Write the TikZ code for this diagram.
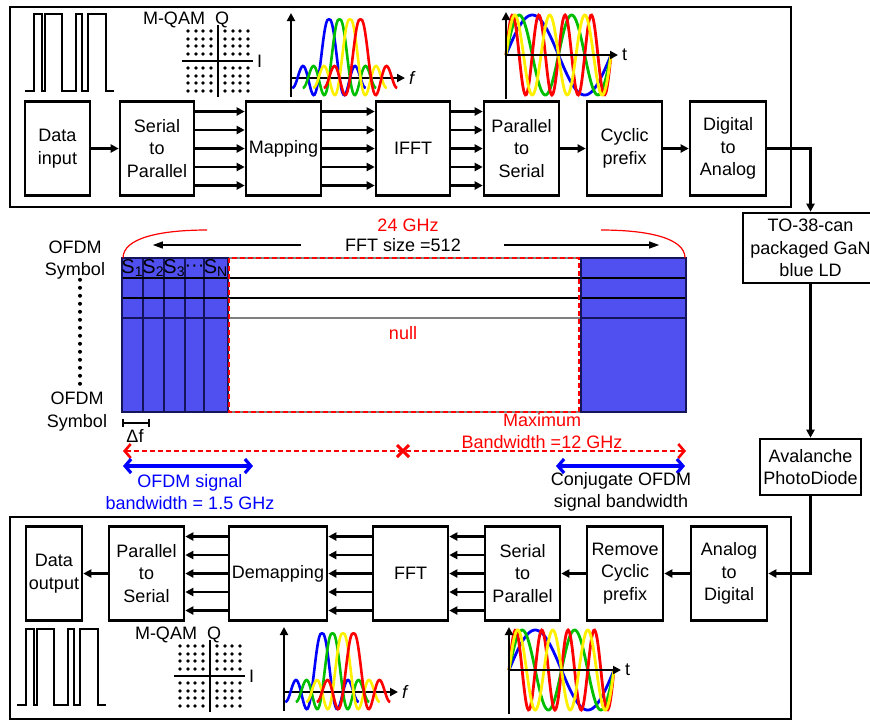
\documentclass[tikz,border=0pt]{standalone}
\usepackage{fontspec}
\setmainfont{Liberation Sans}
\usetikzlibrary{arrows.meta}
\definecolor{gridblue}{RGB}{80,80,240}
\definecolor{gridline}{RGB}{20,20,90}
\definecolor{sincgreen}{RGB}{0,190,0}
\definecolor{sincyellow}{RGB}{255,240,0}

\begin{document}
\begin{tikzpicture}[x=0.5pt, y=-0.5pt, >={Triangle[length=4pt,width=4pt]},
    font=\fontsize{9}{11.2}\selectfont,
    box/.style={draw, line width=1.3pt, minimum height=47pt, inner sep=1pt, align=center},
    flow/.style={->, line width=1.2pt},
    thinarr/.style={-{Triangle[length=5pt,width=3.5pt]}, line width=0.6pt},
    barbs/.style={{Straight Barb[length=3pt,width=7pt]}-{Straight Barb[length=3pt,width=7pt]}},
    lbl/.style={inner sep=0pt, align=center}]
    \useasboundingbox (0,0) rectangle (870,720);

    % Transmitter
    \draw[line width=1.3pt] (10,7) rectangle (791,207);
    \node[box, minimum width=32.5pt] (din) at (57.5,148.5) {Data\\input};
    \node[box, minimum width=37pt] (sp) at (157,148.5) {Serial\\to\\Parallel};
    \node[box, minimum width=37.5pt] (map) at (283.5,148.5) {Mapping};
    \node[box, minimum width=37pt] (ifft) at (413,148.5) {IFFT};
    \node[box, minimum width=37.5pt] (ps) at (521.5,148.5) {Parallel\\to\\Serial};
    \node[box, minimum width=37.5pt] (cp) at (624.5,148.5) {Cyclic\\prefix};
    \node[box, minimum width=38pt] (da) at (728,148.5) {Digital\\to\\Analog};

    \draw[flow] (din) -- (sp);
    \foreach \dy in {-18.5,-9.25,0,9.25,18.5}{
        \draw[flow] ([yshift=\dy pt]sp.east) -- ([yshift=\dy pt]map.west);
        \draw[flow] ([yshift=\dy pt]map.east) -- ([yshift=\dy pt]ifft.west);
        \draw[flow] ([yshift=\dy pt]ifft.east) -- ([yshift=\dy pt]ps.west);
    }
    \draw[flow] (ps) -- (cp);
    \draw[flow] (cp) -- (da);

    % Receiver
    \draw[line width=1.3pt] (10,517) rectangle (791,719);
    \node[box, minimum width=28pt] (dout) at (54,573.5) {Data\\output};
    \node[box, minimum width=37.5pt] (ps2) at (146.5,573.5) {Parallel\\to\\Serial};
    \node[box, minimum width=49pt] (demap) at (278,573.5) {Demapping};
    \node[box, minimum width=37.5pt] (fft) at (410.5,573.5) {FFT};
    \node[box, minimum width=37.5pt] (sp2) at (522.5,573.5) {Serial\\to\\Parallel};
    \node[box, minimum width=38pt] (rcp) at (625,573.5) {Remove\\Cyclic\\prefix};
    \node[box, minimum width=38pt] (ad) at (729,573.5) {Analog\\to\\Digital};

    \draw[flow] (ad) -- (rcp);
    \draw[flow] (rcp) -- (sp2);
    \foreach \dy in {-18.5,-9.25,0,9.25,18.5}{
        \draw[flow] ([yshift=\dy pt]sp2.west) -- ([yshift=\dy pt]fft.east);
        \draw[flow] ([yshift=\dy pt]fft.west) -- ([yshift=\dy pt]demap.east);
        \draw[flow] ([yshift=\dy pt]demap.west) -- ([yshift=\dy pt]ps2.east);
    }
    \draw[flow] (ps2) -- (dout);

    % Optical link
    \node[box, minimum width=67.5pt, minimum height=35pt] (ld) at (810.5,248) {TO-38-can\\packaged GaN\\blue LD};
    \node[box, minimum width=50.5pt, minimum height=28pt] (apd) at (810.5,467) {Avalanche\\PhotoDiode};
    \draw[flow] (da.east) -| (ld.north);
    \draw[flow] (ld) -- (apd);
    \draw[flow] (apd.south) |- (ad.east);

    % Binary data
    \foreach \ox/\oy/\h in {25/91/77, 17/705/76}
        \draw[line width=1.2pt] (\ox,\oy) -| (\ox+9,\oy-\h) -| (\ox+17,\oy) -| (\ox+20,\oy-\h)
            -| (\ox+37,\oy) -| (\ox+51,\oy-\h) -| (\ox+57,\oy) -| (\ox+63,\oy-\h)
            -| (\ox+81,\oy) -- (\ox+89,\oy);

    % Constellations
    \foreach \ox/\oy in {218/61, 210/676}{
        \foreach \i in {-30,-22,-15,-7,7,15,22,30}
            \foreach \j in {-30,-22,-15,-7,7,15,22,30}
                \fill (\ox+\i,\oy+\j) circle[radius=0.9pt];
        \draw[line width=1.2pt] (\ox-36,\oy) -- (\ox+35,\oy) node[right, inner sep=1.5pt] (i\ox) {I};
        \draw[line width=1.2pt] (\ox,\oy+36) -- (\ox,\oy-36);
        \node (qam\ox) at (\ox-44,\oy-41) {M-QAM};
        \node (q\ox) at (\ox+4,\oy-41) {Q};
    }

    % Subcarrier spectra
    \foreach \ox/\oy in {291/78, 284/692}{
        \draw[->, line width=1.2pt] (\ox,\oy+19) -- (\ox,\oy-65);
        \draw[->, line width=1.2pt] (\ox,\oy) -- (\ox+114,\oy) node[right, inner sep=1.5pt] (f\ox) {\textit{f}};
        \foreach \p/\c in {38/blue, 48.5/sincgreen, 59/sincyellow, 69.5/red}
            \draw[\c, line width=1.3pt] plot[domain=-3.5:3.5, samples=70, smooth]
                ({\ox+\p+10.5*\x}, {\oy-58*sin(180*\x)/(pi*\x)*(1+0.25*abs(\x))});
    }

    % Subcarriers in time
    \foreach \ox/\oy in {506/55, 509/670}{
        \foreach \k/\c in {1/blue, 2/sincgreen, 4/red, 3/sincyellow}
            \draw[\c, line width=1.4pt] plot[domain=0:105, samples=120, smooth]
                ({\ox+\x}, {\oy-40*sin(3.4286*\k*\x)});
        \draw[->, line width=1.2pt] (\ox,\oy+44) -- (\ox,\oy-43);
        \draw[->, line width=1.2pt] (\ox,\oy) -- (\ox+112,\oy) node[right, inner sep=1.5pt] (t\ox) {t};
    }

    % Subcarrier grid
    \fill[gridblue] (122,258) rectangle (228,412);
    \fill[gridblue] (581,258) rectangle (686,412);
    \foreach \x in {143,164,185,204}
        \draw[gridline, line width=0.7pt] (\x,258) -- (\x,412);
    \foreach \y in {278,298}
        \draw[line width=0.6pt] (122,\y) -- (686,\y);
    \draw[gray, line width=1pt] (122,318) -- (686,318);
    \draw[gridline, line width=1pt] (122,318) -- (228,318) (581,318) -- (686,318);
    \draw[gray, line width=0.8pt] (122,258) rectangle (686,412);
    \draw[gridline, line width=0.8pt] (122,258) rectangle (228,412);
    \draw[gridline, line width=0.8pt] (581,258) rectangle (686,412);
    \draw[red, line width=1.4pt, dash pattern=on 2.5pt off 1.5pt] (229,258) rectangle (579,412);

    \node[lbl, font=\fontsize{10}{12}\selectfont] (s1) at (132.5,268) {S\textsubscript{1}};
    \node[lbl, font=\fontsize{10}{12}\selectfont] (s2) at (153.5,268) {S\textsubscript{2}};
    \node[lbl, font=\fontsize{10}{12}\selectfont] (s3) at (174.5,268) {S\textsubscript{3}};
    \node[lbl, font=\fontsize{10}{12}\selectfont] (sdots) at (194.5,268) {···};
    \node[lbl, font=\fontsize{10}{12}\selectfont] (sn) at (216,268) {S\textsubscript{N}};

    \node[lbl] (sym1) at (75,260) {OFDM\\Symbol};
    \node[lbl] (sym2) at (77,411.5) {OFDM\\Symbol};
    \draw[line width=2pt, line cap=round, dash pattern=on 0pt off 4pt]
        ([xshift=2.5pt]sym1.south) -- ([xshift=1.5pt,yshift=2pt]sym2.north);

    \node[red] (ghz) at (408,225) {24 GHz};
    \node[lbl] (fftsize) at (403,245) {FFT size =512};
    \draw[thinarr] ([xshift=-22pt]fftsize.west) -- ++(-148,0);
    \draw[thinarr] ([xshift=21.5pt]fftsize.east) -- ++(155,0);
    \draw[red, line width=0.6pt] (123,258) .. controls (123,238) and (160,230) .. (207,230);
    \draw[red, line width=0.6pt] (601,230) .. controls (648,230) and (685,238) .. (685,258);
    \node[red] (null) at (403,333) {null};

    % Subcarrier spacing and bandwidths
    \draw[line width=0.6pt] (123,419) -- (123,427) (123,423) -- (149,423) (149,419) -- (149,427);
    \node[lbl] (df) at (135,436) {Δf};
    \draw[red, line width=1.3pt, dash pattern=on 2.5pt off 1.5pt, barbs] (123,451) -- (686,451);
    \draw[red, line width=1.5pt] (397,445) -- (409,457) (397,457) -- (409,445);
    \node[lbl, red] (maxbw) at (542,431) {Maximum\\Bandwidth =12 GHz};
    \draw[blue, line width=1.6pt, barbs] (123,466) -- (253,466);
    \draw[blue, line width=1.6pt, barbs] (556,466) -- (685,466);
    \node[lbl, blue] (sigbw) at (190,492) {OFDM signal\\bandwidth = 1.5 GHz};
    \node[lbl] (conjbw) at (621,492) {Conjugate OFDM\\signal bandwidth};
\end{tikzpicture}
\end{document}
